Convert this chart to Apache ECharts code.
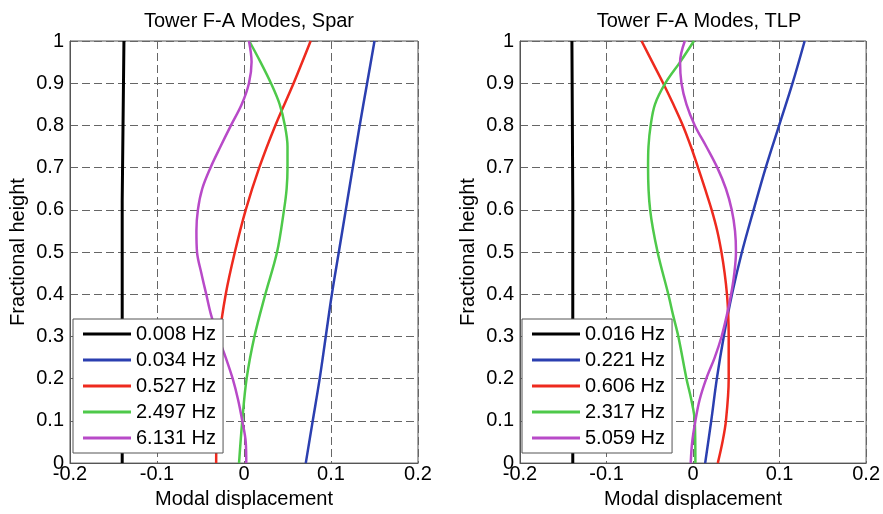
<!DOCTYPE html>
<html>
<head>
<meta charset="utf-8">
<script src="https://cdn.jsdelivr.net/npm/echarts@6/dist/echarts.min.js"></script>
<style>html,body{margin:0;padding:0;background:#fff;}#c{width:883px;height:514px;}</style>
</head>
<body>
<div id="c"></div>
<script>
// Fractional height samples and modal displacements
// ---- Spar ----
const sparBlackY = [0, 0.62, 0.62, 1];
const sparBlackX = [-0.140, -0.140, -0.138, -0.138];
const sparBlueY = [0, 0.1, 0.2, 0.3, 0.4, 0.5, 0.6, 0.7, 0.8, 0.9, 1];
const sparBlueX = [0.071, 0.079, 0.087, 0.094, 0.101, 0.109, 0.117, 0.125, 0.133, 0.1415, 0.150];
const sparRedY = [0, 0.1, 0.2, 0.3, 0.4, 0.5, 0.6, 0.7, 0.8, 0.9, 1];
const sparRedX = [-0.032, -0.0315, -0.030, -0.028, -0.021, -0.0105, 0.002, 0.0175, 0.036, 0.057, 0.0766];
const sparGreenY = [0, 0.1, 0.2, 0.3, 0.4, 0.5, 0.6, 0.65, 0.7, 0.75, 0.8, 0.85, 0.9, 0.95, 1];
const sparGreenX = [-0.0057, -0.002, 0.003, 0.012, 0.0245, 0.038, 0.046, 0.049, 0.050, 0.050, 0.047, 0.041, 0.031, 0.019, 0.006];
const sparMagY = [0, 0.05, 0.1, 0.15, 0.2, 0.25, 0.3, 0.35, 0.4, 0.45, 0.5, 0.55, 0.6, 0.65, 0.7, 0.75, 0.8, 0.85, 0.9, 0.95, 1];
const sparMagX = [0.0026, 0.002, -0.002, -0.0068, -0.013, -0.021, -0.030, -0.0377, -0.0434, -0.049, -0.054, -0.0547, -0.053, -0.048, -0.0385, -0.027, -0.015, -0.0026, 0.0057, 0.0087, 0.0057];
// ---- TLP ----
const tlpBlackY = [0, 0.62, 0.62, 1];
const tlpBlackX = [-0.139, -0.139, -0.140, -0.140];
const tlpBlueY = [0, 0.1, 0.2, 0.3, 0.4, 0.5, 0.6, 0.7, 0.8, 0.9, 1];
const tlpBlueX = [0.014, 0.021, 0.0275, 0.0355, 0.045, 0.0565, 0.070, 0.084, 0.0995, 0.115, 0.129];
const tlpRedY = [0, 0.05, 0.1, 0.2, 0.3, 0.35, 0.4, 0.45, 0.5, 0.55, 0.6, 0.65, 0.7, 0.75, 0.8, 0.85, 0.9, 0.95, 1];
const tlpRedX = [0.0286, 0.034, 0.038, 0.0412, 0.0412, 0.0407, 0.0392, 0.0365, 0.0328, 0.028, 0.0215, 0.0138, 0.0058, -0.0025, -0.0118, -0.0228, -0.0345, -0.047, -0.0595];
const tlpGreenY = [0, 0.1, 0.15, 0.2, 0.3, 0.35, 0.4, 0.5, 0.6, 0.7, 0.75, 0.8, 0.85, 0.9, 0.95, 1];
const tlpGreenX = [0.0027, 0.002, -0.002, -0.0076, -0.017, -0.023, -0.0286, -0.041, -0.0496, -0.052, -0.0515, -0.049, -0.044, -0.032, -0.015, 0.001];
const tlpMagY = [0, 0.05, 0.1, 0.15, 0.2, 0.25, 0.3, 0.35, 0.4, 0.45, 0.5, 0.55, 0.6, 0.65, 0.7, 0.75, 0.8, 0.85, 0.9, 0.95, 1];
const tlpMagX = [-0.0027, -0.001, 0.0027, 0.0076, 0.0153, 0.025, 0.033, 0.039, 0.044, 0.0477, 0.0496, 0.0485, 0.0447, 0.038, 0.028, 0.0153, 0.002, -0.0076, -0.0134, -0.015, -0.0095];

const sparNames = ['0.008 Hz', '0.034 Hz', '0.527 Hz', '2.497 Hz', '6.131 Hz'];
const tlpNames = ['0.016 Hz', '0.221 Hz', '0.606 Hz', '2.317 Hz', '5.059 Hz'];
const titles = ['Tower F-A Modes, Spar', 'Tower F-A Modes, TLP'];
const xTicks = [-0.2, -0.1, 0, 0.1, 0.2];
const yTicks = [0, 0.1, 0.2, 0.3, 0.4, 0.5, 0.6, 0.7, 0.8, 0.9, 1];
const colors = ['#000000', '#2b3fb0', '#ee2a1e', '#4ec94a', '#b84ac8'];

const FONT = 'Liberation Sans, Arial, sans-serif';
const FS = 20;
const TXT = '#000';

function pairs(xs, ys) { return xs.map((x, i) => [x, ys[i]]); }

const sparSets = [[sparBlackX, sparBlackY], [sparBlueX, sparBlueY], [sparRedX, sparRedY], [sparGreenX, sparGreenY], [sparMagX, sparMagY]];
const tlpSets = [[tlpBlackX, tlpBlackY], [tlpBlueX, tlpBlueY], [tlpRedX, tlpRedY], [tlpGreenX, tlpGreenY], [tlpMagX, tlpMagY]];

const series = [];
[[sparSets, sparNames], [tlpSets, tlpNames]].forEach(([sets, names], gi) => {
  sets.forEach((s, i) => {
    series.push({
      type: 'line', name: names[i], xAxisIndex: gi, yAxisIndex: gi,
      data: pairs(s[0], s[1]), showSymbol: false, symbol: 'none',
      smooth: i === 0 ? false : 0.35,
      lineStyle: { color: colors[i], width: i === 0 ? 3 : 2.5 },
      itemStyle: { color: colors[i] },
      animation: false, z: 3
    });
  });
});

function fmt(v) {
  if (Math.abs(v) < 1e-9) return '0';
  if (Math.abs(Math.abs(v) - 1) < 1e-9) return v > 0 ? '1' : '-1';
  return String(+v.toFixed(1));
}

function xAxis(gi) {
  return {
    type: 'value', gridIndex: gi, min: xTicks[0], max: xTicks[xTicks.length - 1], interval: 0.1,
    name: 'Modal displacement', nameLocation: 'middle', nameGap: 25,
    nameTextStyle: { fontFamily: FONT, fontSize: FS, color: TXT },
    axisLine: { show: true, onZero: false, lineStyle: { color: '#555', width: 1 } },
    axisTick: { show: false },
    axisLabel: { fontFamily: FONT, fontSize: FS, color: TXT, margin: 1, formatter: fmt },
    splitLine: { show: true, lineStyle: { color: '#666', type: [8, 4], width: 1 } }
  };
}
function yAxis(gi) {
  return {
    type: 'value', gridIndex: gi, min: yTicks[0], max: yTicks[yTicks.length - 1], interval: 0.1,
    name: 'Fractional height', nameLocation: 'middle', nameGap: 42, nameRotate: 90,
    nameTextStyle: { fontFamily: FONT, fontSize: FS, color: TXT },
    axisLine: { show: true, onZero: false, lineStyle: { color: '#555', width: 1 } },
    axisTick: { show: false },
    axisLabel: { fontFamily: FONT, fontSize: FS, color: TXT, margin: 6, formatter: fmt },
    splitLine: { show: true, lineStyle: { color: '#666', type: [8, 4], width: 1 } }
  };
}

function legend(names, left) {
  return {
    data: names, orient: 'vertical', left: left, top: 319,
    backgroundColor: '#fff', borderColor: '#555', borderWidth: 1,
    padding: [5, 7, 5, 10], itemGap: 6, itemWidth: 48, itemHeight: 3, icon: 'rect',
    textStyle: { fontFamily: FONT, fontSize: FS, color: TXT },
    selectedMode: false, z: 10
  };
}

const chart = echarts.init(document.getElementById('c'), null, { renderer: 'canvas' });
chart.setOption({
  animation: false,
  backgroundColor: '#fff',
  title: [
    { text: titles[0], left: 244, top: 6, textAlign: 'center', textStyle: { fontFamily: FONT, fontSize: FS, fontWeight: 'normal', color: TXT } },
    { text: titles[1], left: 694, top: 6, textAlign: 'center', textStyle: { fontFamily: FONT, fontSize: FS, fontWeight: 'normal', color: TXT } }
  ],
  grid: [
    { left: 70, right: 465, top: 41, bottom: 49, show: true, borderColor: '#555', borderWidth: 1, backgroundColor: 'transparent' },
    { left: 520, right: 14, top: 41, bottom: 49, show: true, borderColor: '#555', borderWidth: 1, backgroundColor: 'transparent' }
  ],
  xAxis: [xAxis(0), xAxis(1)],
  yAxis: [yAxis(0), yAxis(1)],
  legend: [legend(sparNames, 73), legend(tlpNames, 522)],
  series: series
});
</script>
</body>
</html>
